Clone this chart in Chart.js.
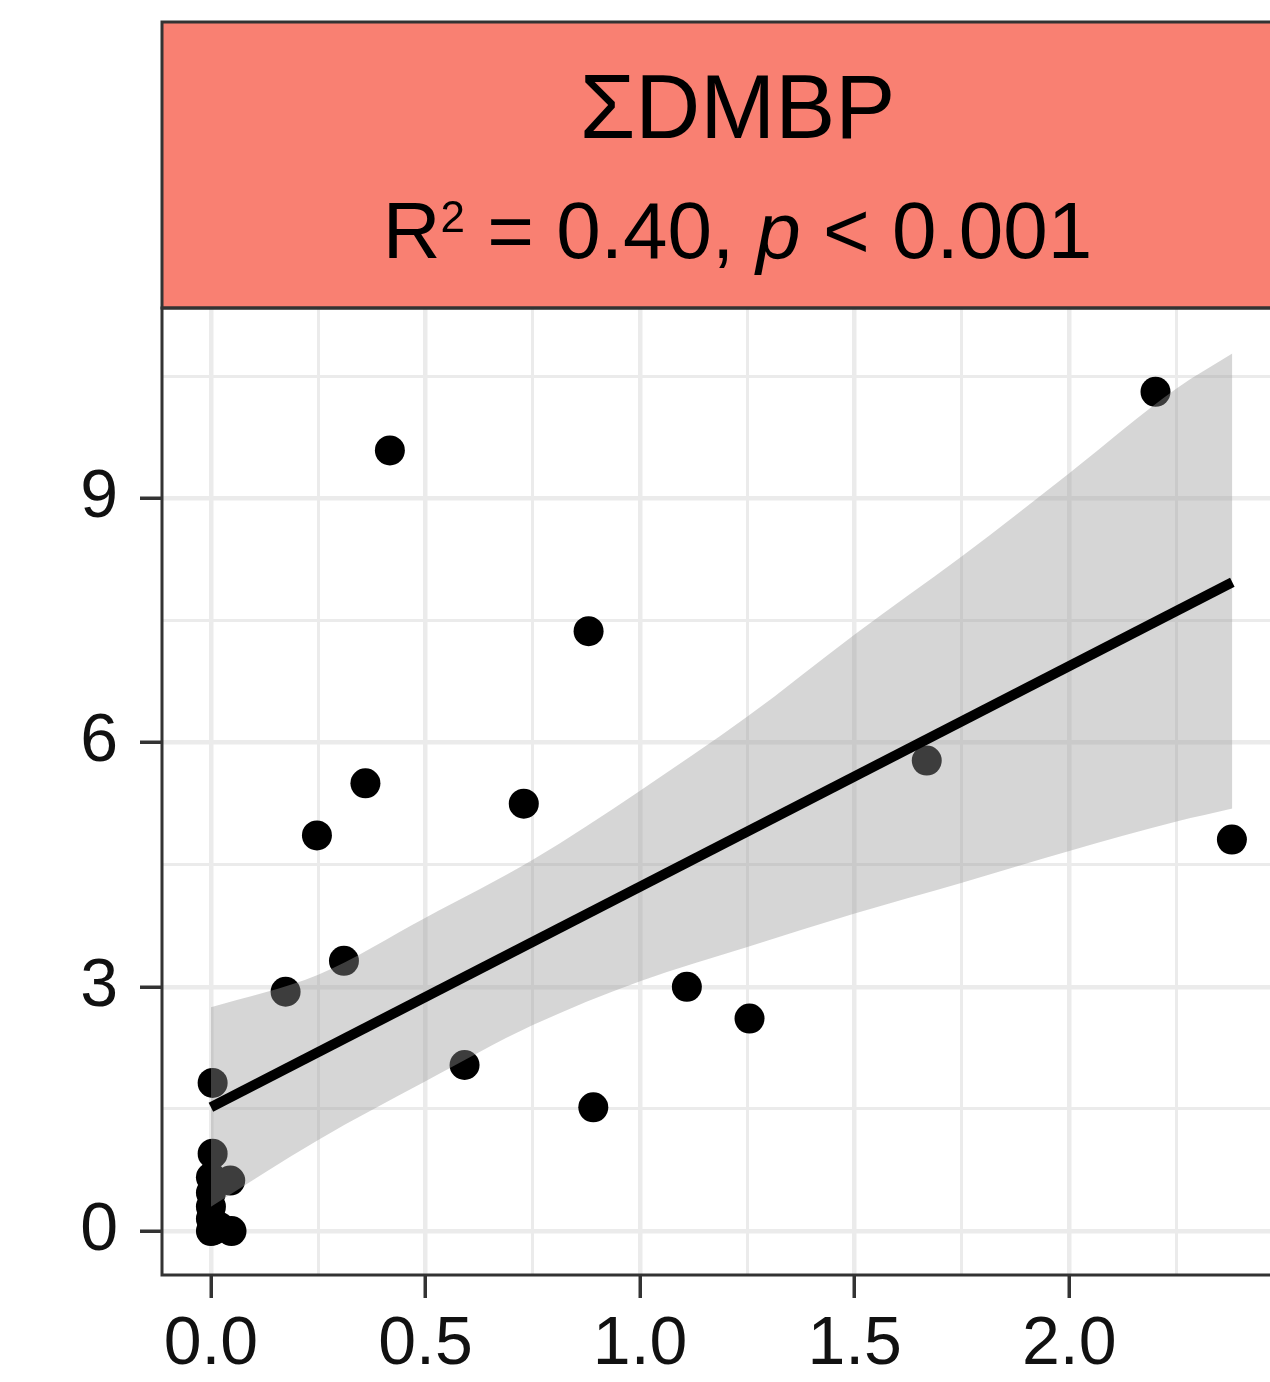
<!DOCTYPE html>
<html>
<head>
<meta charset="utf-8">
<script src="https://cdn.jsdelivr.net/npm/chart.js@4.4.1/dist/chart.umd.min.js"></script>
<style>
  html, body { margin: 0; padding: 0; background: #fff; overflow: hidden; }
  #wrap { position: absolute; left: 0; top: 0; width: 1328px; height: 1382px; }
  #chart-dmbp { display: block; width: 1328px; height: 1382px; }
</style>
</head>
<body>
<div id="wrap"><canvas id="chart-dmbp" width="1328" height="1382"></canvas></div>
<script>
// observed samples
const xVals = [0.000, 0.006, 0.020, 0.048, 0.000, 0.000, 0.000, 0.000, 0.004, 0.045, 0.004,
               0.174, 0.247, 0.310, 0.360, 0.417, 0.591, 0.729, 0.880, 0.891, 1.109, 1.255, 1.668, 2.201, 2.379];
const yVals = [0.00, 0.01, 0.05, 0.00, 0.15, 0.30, 0.47, 0.66, 0.95, 0.62, 1.82,
               2.94, 4.86, 3.32, 5.50, 9.59, 2.04, 5.25, 7.37, 1.52, 3.00, 2.61, 5.78, 10.31, 4.81];

// linear fit and its confidence band
const fitX = [0, 2.38];
const fitY = [1.52, 7.97];
const bandX = [0, 0.25, 0.5, 0.75, 1.0, 1.25, 1.5, 1.75, 2.0, 2.25, 2.38];
const bandLow = [0.30, 1.12, 1.84, 2.53, 3.07, 3.49, 3.90, 4.28, 4.67, 5.03, 5.19];
const bandHigh = [2.75, 3.15, 3.85, 4.56, 5.41, 6.32, 7.33, 8.29, 9.31, 10.35, 10.78];

// axes
const xTicks = [0, 0.25, 0.5, 0.75, 1.0, 1.25, 1.5, 1.75, 2.0, 2.25];
const xMajor = [0, 0.5, 1.0, 1.5, 2.0];
const yTicks = [0, 1.5, 3, 4.5, 6, 7.5, 9, 10.5];
const yMajor = [0, 3, 6, 9];

const stripTitle = 'ΣDMBP';
const statR2 = '0.40';
const statP = '0.001';

const FONT = '"Liberation Sans", Arial, Helvetica, sans-serif';
const GRID = '#EBEBEB';
const DARK = '#333333';

const toXY = (xs, ys) => xs.map((x, i) => ({ x: x, y: ys[i] }));
const isMajor = (list, v) => list.some(m => Math.abs(m - v) < 1e-9);

// strip on top of the panel + panel border
const facetStrip = {
    id: 'facetStrip',
    afterDraw(chart) {
        const { ctx, chartArea: a } = chart;
        const top = 22;
        ctx.save();
        ctx.fillStyle = '#F98072';
        ctx.fillRect(a.left, top, a.right - a.left, a.top - top);
        ctx.strokeStyle = DARK;
        ctx.lineWidth = 3;
        ctx.strokeRect(a.left, top, a.right - a.left, a.top - top);
        ctx.strokeRect(a.left, a.top, a.right - a.left, a.bottom - a.top);

        const cx = (a.left + a.right) / 2;
        ctx.fillStyle = '#000';
        ctx.textBaseline = 'alphabetic';
        ctx.textAlign = 'center';
        ctx.font = `90px ${FONT}`;
        ctx.fillText(stripTitle, cx, 138);

        // R² = 0.40, p < 0.001
        const big = `80px ${FONT}`, sup = `44px ${FONT}`, ital = `italic 80px ${FONT}`;
        const parts = [
            { t: 'R', f: big, dy: 0 },
            { t: '2', f: sup, dy: -26 },
            { t: ` = ${statR2}, `, f: big, dy: 0 },
            { t: 'p', f: ital, dy: 0 },
            { t: ` < ${statP}`, f: big, dy: 0 }
        ];
        let total = 0;
        parts.forEach(p => { ctx.font = p.f; p.w = ctx.measureText(p.t).width; total += p.w; });
        let x = cx - total / 2;
        ctx.textAlign = 'left';
        parts.forEach(p => {
            ctx.font = p.f;
            ctx.fillText(p.t, x, 258 + p.dy);
            x += p.w;
        });
        ctx.restore();
    }
};

new Chart(document.getElementById('chart-dmbp'), {
    type: 'scatter',
    data: {
        datasets: [
            {
                label: 'samples',
                data: toXY(xVals, yVals),
                backgroundColor: '#000',
                borderWidth: 0,
                pointRadius: 15,
                order: 4
            },
            {
                label: 'band low',
                type: 'line',
                data: toXY(bandX, bandLow),
                borderWidth: 0,
                borderColor: 'rgba(0,0,0,0)',
                pointRadius: 0,
                cubicInterpolationMode: 'monotone',
                fill: false,
                order: 3
            },
            {
                label: 'band high',
                type: 'line',
                data: toXY(bandX, bandHigh),
                borderWidth: 0,
                borderColor: 'rgba(0,0,0,0)',
                backgroundColor: 'rgba(153,153,153,0.4)',
                pointRadius: 0,
                cubicInterpolationMode: 'monotone',
                fill: '-1',
                order: 2
            },
            {
                label: 'fit',
                type: 'line',
                data: toXY(fitX, fitY),
                borderColor: '#000',
                borderWidth: 10,
                borderCapStyle: 'butt',
                pointRadius: 0,
                fill: false,
                order: 1
            }
        ]
    },
    options: {
        responsive: false,
        maintainAspectRatio: false,
        devicePixelRatio: 1,
        animation: false,
        events: [],
        layout: { padding: { top: 308, right: 6, left: 0, bottom: 0 } },
        plugins: {
            legend: { display: false },
            tooltip: { enabled: false }
        },
        scales: {
            x: {
                type: 'linear',
                min: -0.114,
                max: 2.568,
                afterFit: s => { s.height = 107; },
                afterBuildTicks: s => { s.ticks = xTicks.map(v => ({ value: v })); },
                border: { display: false },
                grid: {
                    color: GRID,
                    lineWidth: c => (isMajor(xMajor, c.tick.value) ? 4.5 : 3),
                    tickLength: 23,
                    tickWidth: 3.5,
                    tickColor: c => (isMajor(xMajor, c.tick.value) ? DARK : 'rgba(0,0,0,0)')
                },
                ticks: {
                    autoSkip: false,
                    maxRotation: 0,
                    padding: 6,
                    color: '#111',
                    font: { family: FONT, size: 68 },
                    callback: v => (isMajor(xMajor, v) ? v.toFixed(1) : '')
                }
            },
            y: {
                type: 'linear',
                min: -0.54,
                max: 11.34,
                afterFit: s => { s.width = 162; },
                afterBuildTicks: s => { s.ticks = yTicks.map(v => ({ value: v })); },
                border: { display: false },
                grid: {
                    color: GRID,
                    lineWidth: c => (isMajor(yMajor, c.tick.value) ? 4.5 : 3),
                    tickLength: 22,
                    tickWidth: 3.5,
                    tickColor: c => (isMajor(yMajor, c.tick.value) ? DARK : 'rgba(0,0,0,0)')
                },
                ticks: {
                    autoSkip: false,
                    padding: 22,
                    color: '#111',
                    font: { family: FONT, size: 68 },
                    callback: v => (isMajor(yMajor, v) ? String(v) : '')
                }
            }
        }
    },
    plugins: [facetStrip]
});
</script>
</body>
</html>
